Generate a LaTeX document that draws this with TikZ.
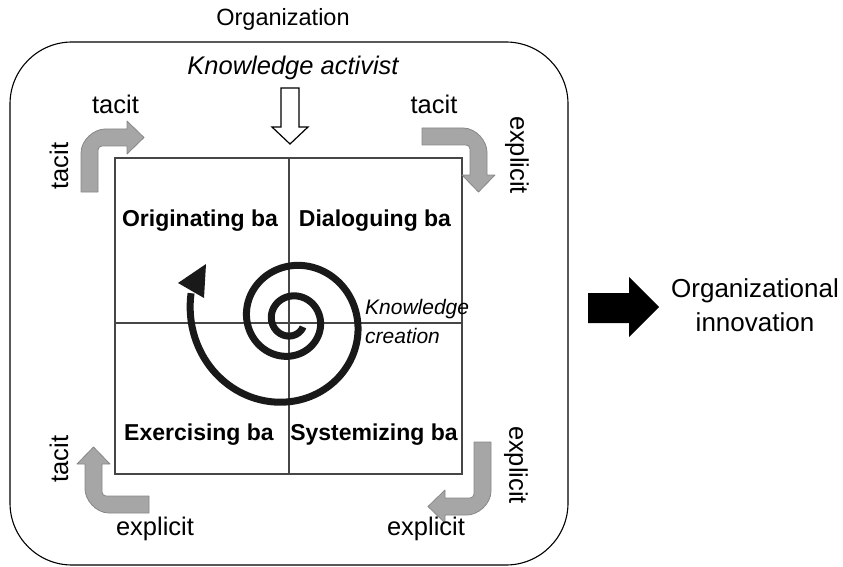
\documentclass[tikz,border=0pt]{standalone}
\usepackage{fontspec}
\setmainfont{Liberation Sans}
\definecolor{bentfillc}{RGB}{166,166,166}
\definecolor{bentdrawc}{RGB}{135,135,135}
\definecolor{gridc}{RGB}{70,70,70}
\begin{document}
\begin{tikzpicture}[x=1pt,y=-1pt,
  lbl/.style={inner sep=0pt, font=\fontsize{25.5}{30}\selectfont},
  balbl/.style={inner sep=0pt, font=\fontsize{23}{27}\selectfont\bfseries},
  bentfill/.style={fill=bentfillc, draw=bentdrawc, line width=0.8pt, line join=round},
  % L-shaped bent arrow: tail of length #1 going up, arm of length #2 going right
  pics/bentarrow/.style 2 args={code={
    \path[bentfill] (0,#1) -- (0,24) .. controls (0,10.75) and (13.25,0) .. (24,0)
      -- (#2,0) -- (#2,-8) -- ({#2+17},8.5) -- (#2,25) -- (#2,17)
      -- (21,17) .. controls (18.79,17) and (17,18.79) .. (17,21)
      -- (17,#1) -- cycle;
  }}
]
\useasboundingbox (0,0) rectangle (843,567);

% organization frame
\draw[line width=1.1pt, rounded corners=62pt] (10,42) rectangle (568,565);
\node[inner sep=0pt, font=\fontsize{23.5}{28}\selectfont] (org) at (283,19) {Organization};

% ba square and its quadrants
\draw[gridc, line width=1.3pt] (115,158) rectangle (462,474);
\coordinate (vt) at (289,158);
\coordinate (vb) at (289,474);
\coordinate (hl) at (115,323);
\coordinate (hr) at (462,323);
\draw[gridc, line width=1.3pt] (vt) -- (vb);
\draw[gridc, line width=1.3pt] (hl) -- (hr);

\node[balbl] (orig) at (200,221) {Originating ba};
\node[balbl] (dial) at (375,221) {Dialoguing ba};
\node[balbl] (exer) at (199,435) {Exercising ba};
\node[balbl] (syst) at (374,435) {Systemizing ba};

% knowledge activist input
\node[inner sep=0pt, font=\fontsize{25.5}{30}\selectfont\itshape] (act) at (293,68) {Knowledge activist};
\draw[line width=1.2pt, fill=white, line join=miter]
  (281,88) -- (299,88) -- (299,127) -- (308,127) -- (290,144) -- (272,127) -- (281,127) -- cycle;

% knowledge creation spiral
\draw[line width=7pt, black!90]
  plot[domain=-330:555, samples=320, smooth, variable=\t]
  ({291+100*exp(0.13*(\t-540)/57.2958)*cos(\t)},
   {320+100*exp(0.13*(\t-540)/57.2958)*sin(\t)});
\fill[black!90] (178,283) -- (206,264) -- (204,298) -- cycle;
\node[inner sep=0pt, anchor=base west, font=\fontsize{21}{26}\selectfont\itshape] (kc1) at (365,314) {Knowledge};
\node[inner sep=0pt, anchor=base west, font=\fontsize{21}{26}\selectfont\itshape] (kc2) at (365,343) {creation};

% conversion arrows at the four corners
\pic at (81,129) {bentarrow={63}{46}};
\pic[rotate=-90] at (487,128) {bentarrow={65}{47}};
\pic[rotate=180] at (491,515) {bentarrow={73}{46}};
\pic[rotate=90] at (85,513) {bentarrow={64}{49}};

\node[lbl] (tl1) at (115.5,104) {tacit};
\node[lbl, rotate=90] (tl2) at (59,166) {tacit};
\node[lbl] (tr1) at (434,104) {tacit};
\node[lbl, rotate=-90] (tr2) at (517,155) {explicit};
\node[lbl, rotate=-90] (br1) at (516,465) {explicit};
\node[lbl] (br2) at (426,529) {explicit};
\node[lbl, rotate=90] (bl1) at (59,459) {tacit};
\node[lbl] (bl2) at (155,529) {explicit};

% outcome
\fill (588,293) -- (629,293) -- (629,277) -- (659,307) -- (629,337) -- (629,323) -- (588,323) -- cycle;
\node[inner sep=0pt, font=\fontsize{26}{31}\selectfont] (inn1) at (755,291) {Organizational};
\node[inner sep=0pt, font=\fontsize{26}{31}\selectfont] (inn2) at (755,322) {innovation};
\end{tikzpicture}
\end{document}
